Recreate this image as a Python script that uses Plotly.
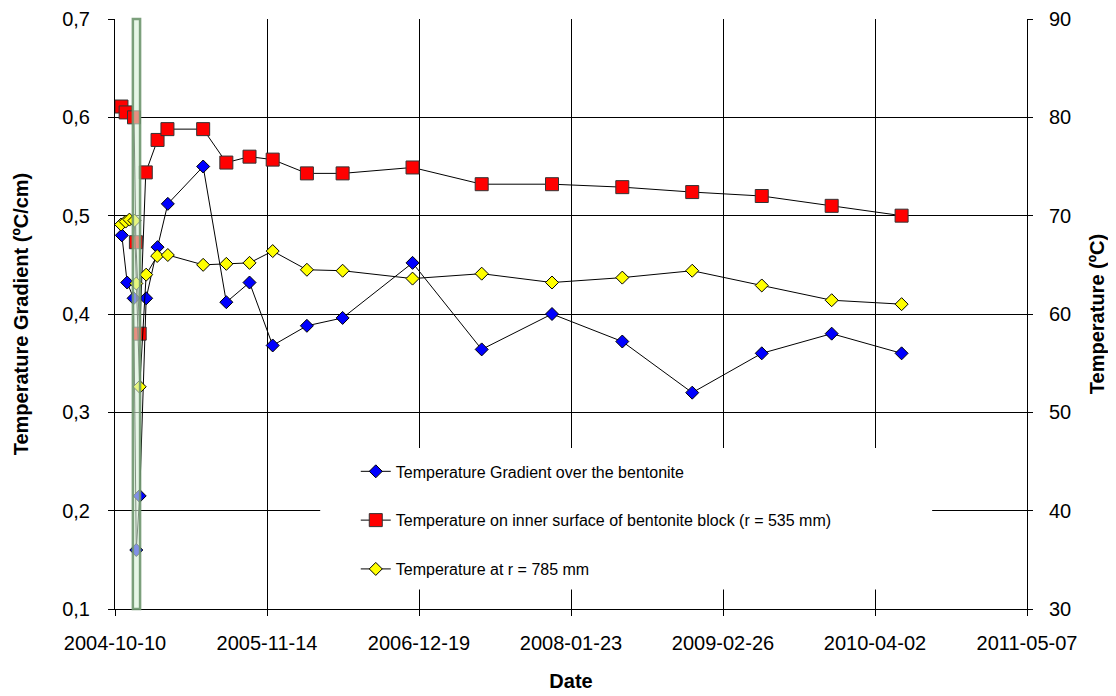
import plotly.graph_objects as go

# Temperature gradient over the bentonite (left axis, ºC/cm)
grad_dates = [
    "2004-10-28", "2004-11-11", "2004-11-28", "2004-12-05", "2004-12-14",
    "2004-12-31", "2005-01-30", "2005-02-26", "2005-05-30", "2005-07-30",
    "2005-09-29", "2005-11-29", "2006-02-27", "2006-06-01", "2006-12-02",
    "2007-06-02", "2007-12-04", "2008-06-06", "2008-12-07", "2009-06-08",
    "2009-12-09", "2010-06-11",
]
grad_values = [
    0.480, 0.432, 0.416, 0.160, 0.215, 0.416, 0.468, 0.512, 0.550, 0.412,
    0.432, 0.368, 0.388, 0.396, 0.452, 0.364, 0.400, 0.372, 0.320, 0.360,
    0.380, 0.360,
]

# Temperature on inner surface of bentonite block (right axis, ºC)
inner_dates = [
    "2004-10-27", "2004-11-07", "2004-11-29", "2004-12-04", "2004-12-14",
    "2004-12-30", "2005-01-30", "2005-02-25", "2005-05-30", "2005-07-30",
    "2005-09-29", "2005-11-29", "2006-02-27", "2006-06-01", "2006-12-02",
    "2007-06-02", "2007-12-04", "2008-06-06", "2008-12-07", "2009-06-08",
    "2009-12-09", "2010-06-11",
]
inner_values = [
    81.1, 80.5, 80.0, 67.3, 58.0, 74.4, 77.7, 78.8, 78.8, 75.4,
    76.0, 75.7, 74.3, 74.3, 74.9, 73.2, 73.2, 72.9, 72.4, 72.0,
    71.0, 70.0,
]

# Temperature at r = 785 mm (right axis, ºC)
outer_dates = [
    "2004-10-26", "2004-11-07", "2004-11-17", "2004-11-30", "2004-12-05",
    "2004-12-14", "2004-12-31", "2005-01-29", "2005-02-26", "2005-05-30",
    "2005-07-30", "2005-09-29", "2005-11-29", "2006-02-27", "2006-06-01",
    "2006-12-02", "2007-06-02", "2007-12-04", "2008-06-06", "2008-12-07",
    "2009-06-08", "2009-12-09", "2010-06-11",
]
outer_values = [
    69.1, 69.4, 69.6, 69.5, 63.1, 52.6, 64.0, 65.9, 66.0, 65.0,
    65.1, 65.2, 66.4, 64.5, 64.4, 63.6, 64.1, 63.2, 63.7, 64.4,
    62.9, 61.4, 61.0,
]

x_ticks = [
    "2004-10-10", "2005-11-14", "2006-12-19", "2008-01-23",
    "2009-02-26", "2010-04-02", "2011-05-07",
]

# Shaded event window (heater interruption)
event_window = ["2004-11-26", "2004-12-15"]

FONT = "Liberation Sans, Arial, sans-serif"

fig = go.Figure()

fig.add_trace(
    go.Scatter(
        x=grad_dates,
        y=grad_values,
        mode="lines+markers",
        name="Temperature Gradient over the bentonite",
        legendgroup="g1",
        line=dict(color="black", width=1),
        marker=dict(symbol="diamond", size=10, color="#0000FF",
                    line=dict(color="black", width=1)),
    )
)
fig.add_trace(
    go.Scatter(
        x=inner_dates,
        y=inner_values,
        yaxis="y2",
        mode="lines+markers",
        name="Temperature on inner surface of bentonite block (r = 535 mm)",
        legendgroup="g2",
        line=dict(color="black", width=1),
        marker=dict(symbol="square", size=13, color="#FF0000",
                    line=dict(color="#333333", width=1)),
    )
)
fig.add_trace(
    go.Scatter(
        x=outer_dates,
        y=outer_values,
        yaxis="y2",
        mode="lines+markers",
        name="Temperature at r = 785 mm",
        legendgroup="g3",
        line=dict(color="black", width=1),
        marker=dict(symbol="diamond", size=10, color="#FFFF00",
                    line=dict(color="black", width=1)),
    )
)

# White box behind the legend, hiding gridlines
fig.add_shape(
    type="rect", xref="paper", yref="paper",
    x0=0.225, x1=0.896, y0=0.033, y1=0.273,
    fillcolor="white", line=dict(width=0), layer="above",
)

# Green translucent band
fig.add_shape(
    type="rect", xref="x", yref="paper",
    x0=event_window[0], x1=event_window[1], y0=0, y1=1,
    fillcolor="rgba(215,240,215,0.6)",
    line=dict(color="rgba(110,150,110,0.9)", width=2.5),
    layer="above",
)

# page body has an 8px margin, so the figure is sized to fit the window
fig.update_layout(
    width=1108,
    height=688,
    margin=dict(l=106.5, r=89, t=11, b=86.7),
    plot_bgcolor="white",
    paper_bgcolor="white",
    separators=",.",
    font=dict(family=FONT, size=20, color="black"),
    showlegend=True,
    legend=dict(
        x=0.264, y=0.262, xanchor="left", yanchor="top",
        bgcolor="rgba(0,0,0,0)",
        font=dict(size=16, family=FONT),
        tracegroupgap=25,
    ),
)

fig.update_xaxes(
    type="date",
    range=[x_ticks[0], x_ticks[-1]],
    tickvals=x_ticks,
    ticktext=x_ticks,
    automargin=False,
    showgrid=True, gridcolor="black", gridwidth=1,
    showline=True, linecolor="black", linewidth=1,
    ticks="outside", ticklen=6, tickcolor="black",
    ticklabelstandoff=10,
    title=dict(text="<b>Date</b>", font=dict(size=20), standoff=20),
)

fig.update_layout(
    yaxis=dict(
        range=[0.1, 0.7], dtick=0.1, tick0=0.1, tickformat=".1f",
        automargin=False,
        showgrid=True, gridcolor="black", gridwidth=1,
        zeroline=False,
        showline=True, linecolor="black", linewidth=1,
        ticks="outside", ticklen=6, tickcolor="black",
        ticklabelstandoff=14,
        title=dict(text="<b>Temperature Gradient (ºC/cm)</b>",
                   font=dict(size=20), standoff=28),
    ),
    yaxis2=dict(
        overlaying="y", side="right",
        range=[30, 90], dtick=10, tick0=30,
        automargin=False,
        showgrid=False, zeroline=False,
        showline=True, linecolor="black", linewidth=1,
        ticks="outside", ticklen=5, tickcolor="black",
        ticklabelstandoff=12,
        title=dict(text="<b>Temperature (ºC)</b>",
                   font=dict(size=20), standoff=19),
    ),
)

fig.write_html("out.html")
